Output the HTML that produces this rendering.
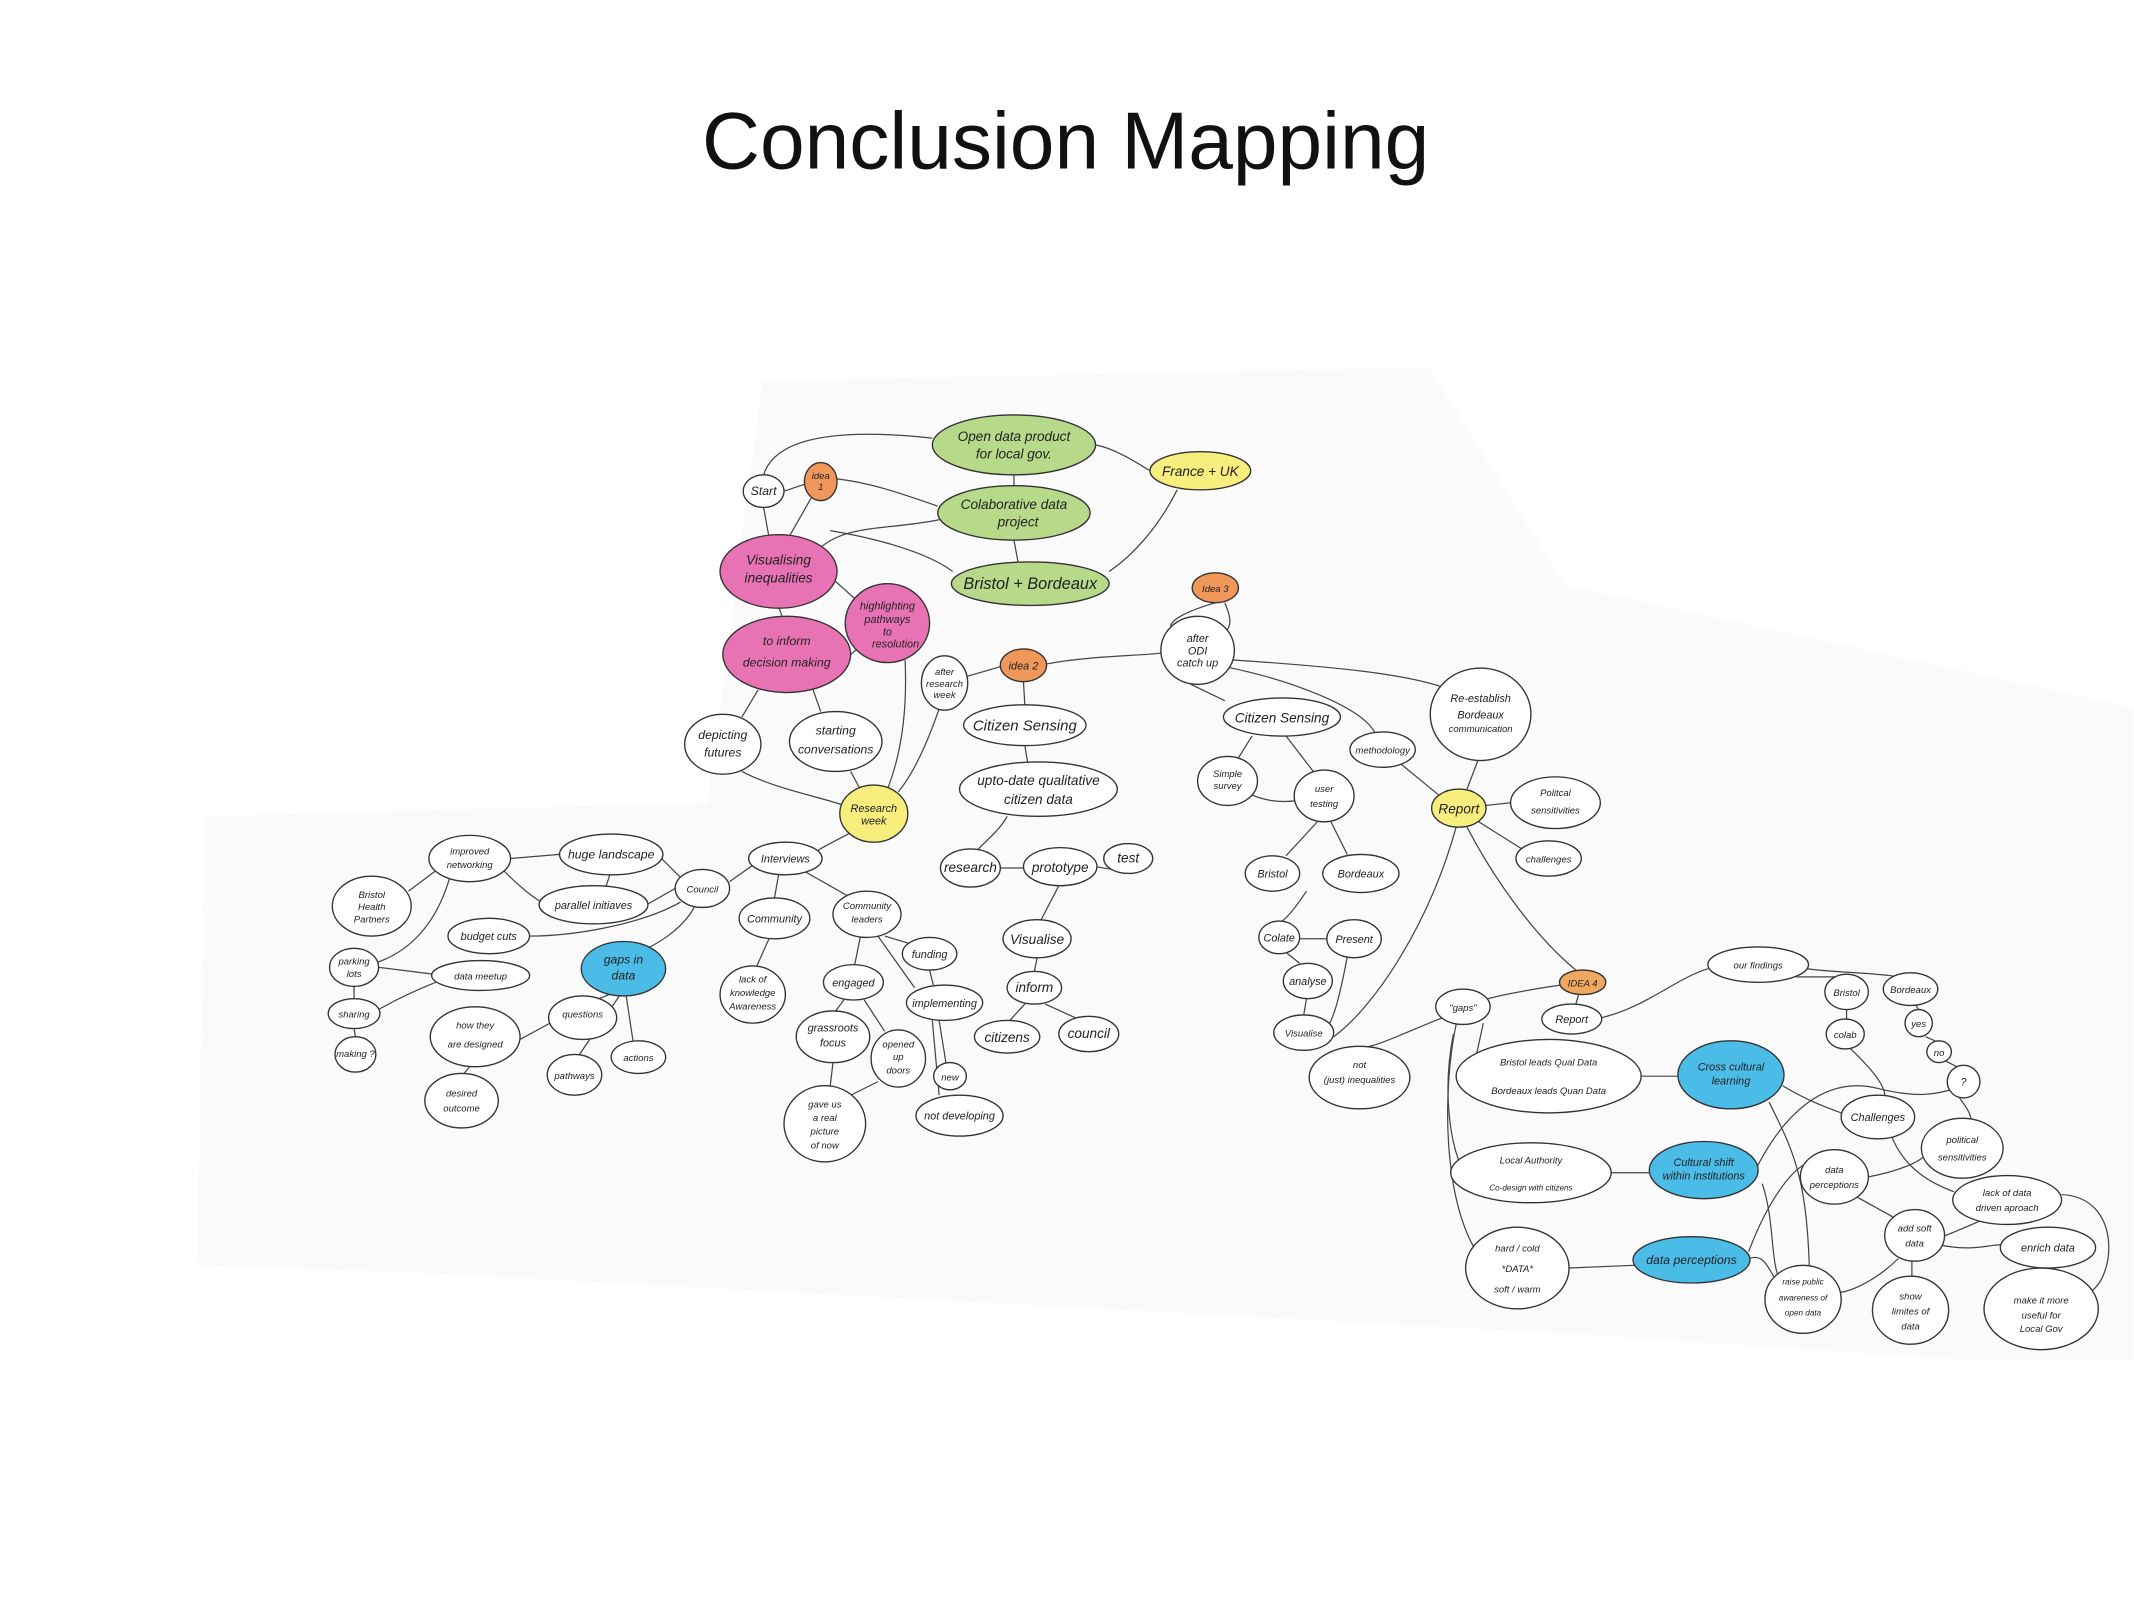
<!DOCTYPE html>
<html><head><meta charset="utf-8"><style>
html,body{margin:0;padding:0;background:#fff;}
body{width:2134px;height:1600px;overflow:hidden;}
svg{display:block}
.t{font-family:"Liberation Sans",sans-serif;font-style:italic;fill:#222;text-anchor:middle;}
ellipse{stroke:#333;stroke-width:1;}
path.e{fill:none;stroke:#444;stroke-width:0.9;}
</style></head><body>
<svg width="2134" height="1600" viewBox="0 0 1568 1176" xmlns="http://www.w3.org/2000/svg">
<rect width="1568" height="1176" fill="#fff"/>
<path d="M150 600 L520 590 L560 280 L1050 270 L1150 430 L1568 520 L1568 1000 L1450 1000 L1150 980 L300 935 L145 930 Z" fill="#fafafa"/>
<text x="783" y="124" font-family="Liberation Sans, sans-serif" font-size="59" text-anchor="middle" fill="#111">Conclusion Mapping</text>

<g>
<path class="e" d="M561 349 C570 320 620 315 685 322"/>
<path class="e" d="M576 361 L591 356"/>
<path class="e" d="M615 352 C640 355 660 362 689 372"/>
<path class="e" d="M745 349 L745 357"/>
<path class="e" d="M745 397 L748 413"/>
<path class="e" d="M805 327 C820 330 835 340 845 346"/>
<path class="e" d="M865 360 C850 390 830 410 815 420"/>
<path class="e" d="M561 373 L565 395"/>
<path class="e" d="M596 366 L580 394"/>
<path class="e" d="M600 405 C620 385 650 390 690 382"/>
<path class="e" d="M610 390 C640 395 680 405 700 420"/>
<path class="e" d="M572 446 L575 454"/>
<path class="e" d="M608 422 L628 440"/>
<path class="e" d="M624 482 L640 468"/>
<path class="e" d="M557 507 L545 527"/>
<path class="e" d="M597 506 L603 523"/>
<path class="e" d="M545 567 C570 580 600 585 620 592"/>
<path class="e" d="M625 567 L632 580"/>
<path class="e" d="M665 485 C667 530 660 560 652 580"/>
<path class="e" d="M690 521 C680 550 670 570 660 582"/>
<path class="e" d="M711 497 L735 490"/>
<path class="e" d="M769 488 C800 482 840 482 853 480"/>
<path class="e" d="M752 501 L753 518"/>
<path class="e" d="M753 548 L755 560"/>
<path class="e" d="M740 600 C735 610 722 620 718 625"/>
<path class="e" d="M735 638 L752 638"/>
<path class="e" d="M806 637 C820 640 832 640 829 642"/>
<path class="e" d="M778 651 L765 676"/>
<path class="e" d="M762 704 L760 714"/>
<path class="e" d="M753 738 L742 750"/>
<path class="e" d="M768 738 L790 748"/>
<path class="e" d="M625 612 C610 620 600 625 600 626"/>
<path class="e" d="M560 631 L536 648"/>
<path class="e" d="M572 643 L569 660"/>
<path class="e" d="M592 641 L622 658"/>
<path class="e" d="M565 690 L556 710"/>
<path class="e" d="M650 688 L670 694"/>
<path class="e" d="M632 689 L628 709"/>
<path class="e" d="M645 688 L672 726"/>
<path class="e" d="M620 735 L614 743"/>
<path class="e" d="M635 735 L650 758"/>
<path class="e" d="M612 781 L610 798"/>
<path class="e" d="M645 795 L625 805"/>
<path class="e" d="M690 750 L695 781"/>
<path class="e" d="M685 750 L690 805"/>
<path class="e" d="M683 713 L686 725"/>
<path class="e" d="M496 653 L475 665"/>
<path class="e" d="M500 645 L485 630"/>
<path class="e" d="M375 631 L411 628"/>
<path class="e" d="M370 640 C385 655 395 662 400 664"/>
<path class="e" d="M448 643 L445 652"/>
<path class="e" d="M320 640 L300 655"/>
<path class="e" d="M330 646 C320 680 300 700 275 708"/>
<path class="e" d="M500 663 C470 680 420 688 389 688"/>
<path class="e" d="M510 667 C500 685 480 695 470 700"/>
<path class="e" d="M278 711 L318 716"/>
<path class="e" d="M320 722 C300 730 285 738 278 742"/>
<path class="e" d="M260 725 L260 734"/>
<path class="e" d="M260 756 L261 762"/>
<path class="e" d="M382 764 L404 752"/>
<path class="e" d="M345 784 L340 790"/>
<path class="e" d="M450 730 L440 734"/>
<path class="e" d="M455 732 L425 776"/>
<path class="e" d="M460 732 L465 765"/>
<path class="e" d="M893 443 C870 450 862 455 860 460"/>
<path class="e" d="M900 443 C905 455 905 460 900 465"/>
<path class="e" d="M875 503 L900 515"/>
<path class="e" d="M900 490 C950 500 1000 520 1010 538"/>
<path class="e" d="M905 485 C980 490 1030 495 1060 505"/>
<path class="e" d="M920 541 L910 557"/>
<path class="e" d="M945 541 L965 567"/>
<path class="e" d="M915 582 C930 590 945 590 955 588"/>
<path class="e" d="M1030 562 L1058 585"/>
<path class="e" d="M1086 559 L1078 580"/>
<path class="e" d="M1092 592 L1110 590"/>
<path class="e" d="M1085 603 L1120 625"/>
<path class="e" d="M968 604 L945 629"/>
<path class="e" d="M978 604 L990 628"/>
<path class="e" d="M960 655 C950 670 945 675 942 677"/>
<path class="e" d="M955 690 L975 690"/>
<path class="e" d="M945 700 L955 708"/>
<path class="e" d="M960 734 L958 746"/>
<path class="e" d="M990 703 C985 730 980 750 975 755"/>
<path class="e" d="M1070 608 C1050 680 1010 740 980 762"/>
<path class="e" d="M1078 608 C1100 650 1130 690 1158 713"/>
<path class="e" d="M1147 724 C1120 728 1100 732 1090 735"/>
<path class="e" d="M1160 731 L1158 738"/>
<path class="e" d="M1060 748 C1030 760 1010 770 1000 770"/>
<path class="e" d="M1070 753 C1060 800 1060 880 1085 920"/>
<path class="e" d="M1090 752 L1085 775"/>
<path class="e" d="M1068 760 C1060 800 1065 840 1075 860"/>
<path class="e" d="M1177 748 C1210 740 1230 720 1255 712"/>
<path class="e" d="M1328 712 C1350 715 1380 715 1395 718"/>
<path class="e" d="M1320 718 L1350 718"/>
<path class="e" d="M1357 742 L1357 749"/>
<path class="e" d="M1408 739 L1410 742"/>
<path class="e" d="M1415 762 L1422 765"/>
<path class="e" d="M1430 780 L1438 784"/>
<path class="e" d="M1206 791 L1234 791"/>
<path class="e" d="M1184 862 L1212 862"/>
<path class="e" d="M1153 932 L1201 930"/>
<path class="e" d="M1310 798 C1330 810 1345 815 1353 818"/>
<path class="e" d="M1360 771 C1380 790 1385 800 1385 805"/>
<path class="e" d="M1300 810 C1320 850 1330 870 1330 960"/>
<path class="e" d="M1290 860 C1310 820 1340 790 1380 800 C1420 810 1430 800 1440 800"/>
<path class="e" d="M1285 920 C1300 880 1320 855 1330 855"/>
<path class="e" d="M1285 925 C1300 920 1300 940 1310 945"/>
<path class="e" d="M1295 870 C1305 900 1300 930 1310 945"/>
<path class="e" d="M1373 865 C1400 860 1420 850 1415 845"/>
<path class="e" d="M1365 880 L1392 895"/>
<path class="e" d="M1395 925 C1380 940 1360 950 1350 950"/>
<path class="e" d="M1405 927 L1405 938"/>
<path class="e" d="M1425 910 C1450 900 1460 895 1460 895"/>
<path class="e" d="M1425 915 C1450 920 1460 915 1470 915"/>
<path class="e" d="M1390 835 C1400 860 1420 870 1436 876"/>
<path class="e" d="M1440 807 C1450 820 1450 825 1445 825"/>
<path class="e" d="M1515 878 C1560 880 1555 940 1535 950"/>
<path class="e" d="M1505 932 L1500 932"/>
</g>

<g>
<ellipse cx="745" cy="327" rx="60" ry="22" fill="#b7d98a"/>
<ellipse cx="745" cy="377" rx="56" ry="20" fill="#b7d98a"/>
<ellipse cx="757" cy="429" rx="58" ry="16" fill="#b7d98a"/>
<ellipse cx="882" cy="346" rx="37" ry="14" fill="#f7ee7e"/>
<ellipse cx="642" cy="598" rx="25" ry="21" fill="#f7ee7e"/>
<ellipse cx="1072" cy="594" rx="20" ry="14" fill="#f7ee7e"/>
<ellipse cx="603" cy="354" rx="12" ry="14" fill="#f0985a"/>
<ellipse cx="893" cy="432" rx="17" ry="11" fill="#f0985a"/>
<ellipse cx="752" cy="489" rx="17" ry="12" fill="#f0985a"/>
<ellipse cx="1163" cy="722" rx="17" ry="9" fill="#f0a860"/>
<ellipse cx="572" cy="420" rx="43" ry="27" fill="#e773b4"/>
<ellipse cx="578" cy="481" rx="47" ry="28" fill="#e773b4"/>
<ellipse cx="652" cy="458" rx="31" ry="29" fill="#e773b4"/>
<ellipse cx="458" cy="712" rx="31" ry="20" fill="#4bbbe8"/>
<ellipse cx="1272" cy="790" rx="39" ry="25" fill="#4bbbe8"/>
<ellipse cx="1252" cy="860" rx="40" ry="21" fill="#4bbbe8"/>
<ellipse cx="1243" cy="926" rx="43" ry="17" fill="#4bbbe8"/>
</g>
<g fill="#fff">
<ellipse cx="561" cy="361" rx="15" ry="12"/>
<ellipse cx="694" cy="502" rx="17" ry="20"/>
<ellipse cx="880" cy="478" rx="27" ry="25"/>
<ellipse cx="753" cy="533" rx="45" ry="15"/>
<ellipse cx="763" cy="580" rx="58" ry="20"/>
<ellipse cx="713" cy="638" rx="22" ry="14"/>
<ellipse cx="779" cy="637" rx="27" ry="14"/>
<ellipse cx="829" cy="631" rx="18" ry="11"/>
<ellipse cx="762" cy="690" rx="25" ry="14"/>
<ellipse cx="760" cy="726" rx="20" ry="12"/>
<ellipse cx="740" cy="762" rx="24" ry="12"/>
<ellipse cx="800" cy="760" rx="22" ry="13"/>
<ellipse cx="531" cy="547" rx="28" ry="22"/>
<ellipse cx="614" cy="545" rx="34" ry="22"/>
<ellipse cx="577" cy="631" rx="27" ry="12"/>
<ellipse cx="569" cy="675" rx="26" ry="15"/>
<ellipse cx="637" cy="672" rx="25" ry="17"/>
<ellipse cx="683" cy="701" rx="20" ry="12"/>
<ellipse cx="627" cy="722" rx="22" ry="13"/>
<ellipse cx="694" cy="737" rx="28" ry="13"/>
<ellipse cx="612" cy="762" rx="27" ry="19"/>
<ellipse cx="660" cy="778" rx="20" ry="21"/>
<ellipse cx="698" cy="791" rx="12" ry="10"/>
<ellipse cx="606" cy="826" rx="30" ry="28"/>
<ellipse cx="705" cy="820" rx="32" ry="15"/>
<ellipse cx="553" cy="731" rx="24" ry="21"/>
<ellipse cx="516" cy="653" rx="20" ry="14"/>
<ellipse cx="449" cy="628" rx="38" ry="15"/>
<ellipse cx="345" cy="631" rx="30" ry="17"/>
<ellipse cx="436" cy="665" rx="40" ry="14"/>
<ellipse cx="273" cy="666" rx="29" ry="22"/>
<ellipse cx="359" cy="688" rx="30" ry="13"/>
<ellipse cx="260" cy="711" rx="18" ry="14"/>
<ellipse cx="353" cy="717" rx="36" ry="11"/>
<ellipse cx="260" cy="745" rx="19" ry="11"/>
<ellipse cx="261" cy="775" rx="15" ry="13"/>
<ellipse cx="349" cy="762" rx="33" ry="22"/>
<ellipse cx="428" cy="748" rx="25" ry="16"/>
<ellipse cx="469" cy="777" rx="20" ry="12"/>
<ellipse cx="422" cy="790" rx="20" ry="15"/>
<ellipse cx="339" cy="809" rx="27" ry="20"/>
<ellipse cx="942" cy="527" rx="43" ry="14"/>
<ellipse cx="1016" cy="551" rx="24" ry="13"/>
<ellipse cx="1088" cy="525" rx="37" ry="34"/>
<ellipse cx="902" cy="574" rx="22" ry="18"/>
<ellipse cx="973" cy="585" rx="22" ry="19"/>
<ellipse cx="1143" cy="590" rx="33" ry="19"/>
<ellipse cx="1138" cy="631" rx="24" ry="13"/>
<ellipse cx="935" cy="642" rx="20" ry="13"/>
<ellipse cx="1000" cy="642" rx="28" ry="14"/>
<ellipse cx="940" cy="689" rx="15" ry="12"/>
<ellipse cx="995" cy="690" rx="20" ry="14"/>
<ellipse cx="961" cy="721" rx="18" ry="13"/>
<ellipse cx="958" cy="759" rx="22" ry="13"/>
<ellipse cx="1075" cy="740" rx="20" ry="13"/>
<ellipse cx="1155" cy="749" rx="22" ry="11"/>
<ellipse cx="999" cy="792" rx="37" ry="23"/>
<ellipse cx="1292" cy="709" rx="37" ry="13"/>
<ellipse cx="1357" cy="729" rx="16" ry="13"/>
<ellipse cx="1404" cy="727" rx="20" ry="12"/>
<ellipse cx="1356" cy="760" rx="14" ry="11"/>
<ellipse cx="1410" cy="752" rx="10" ry="10"/>
<ellipse cx="1425" cy="773" rx="9" ry="8"/>
<ellipse cx="1443" cy="795" rx="12" ry="12"/>
<ellipse cx="1138" cy="791" rx="68" ry="27"/>
<ellipse cx="1125" cy="862" rx="59" ry="22"/>
<ellipse cx="1115" cy="932" rx="38" ry="30"/>
<ellipse cx="1380" cy="821" rx="27" ry="16"/>
<ellipse cx="1442" cy="844" rx="30" ry="22"/>
<ellipse cx="1348" cy="865" rx="25" ry="20"/>
<ellipse cx="1475" cy="882" rx="40" ry="18"/>
<ellipse cx="1407" cy="908" rx="22" ry="19"/>
<ellipse cx="1505" cy="917" rx="35" ry="15"/>
<ellipse cx="1325" cy="955" rx="28" ry="25"/>
<ellipse cx="1404" cy="963" rx="28" ry="25"/>
<ellipse cx="1500" cy="962" rx="42" ry="30"/>
</g>

<g class="t" font-size="10">
<text x="745" y="324">Open data product</text><text x="745" y="337">for local gov.</text>
<text x="745" y="374">Colaborative data</text><text x="748" y="387">project</text>
<text x="757" y="433" font-size="12">Bristol + Bordeaux</text>
<text x="882" y="350">France + UK</text>
<text x="642" y="597" font-size="8">Research</text><text x="642" y="606" font-size="8">week</text>
<text x="1072" y="598">Report</text>
<text x="603" y="352" font-size="7">idea</text><text x="603" y="360" font-size="7">1</text>
<text x="893" y="435" font-size="7">Idea 3</text>
<text x="752" y="492" font-size="8">idea 2</text>
<text x="1163" y="725" font-size="7">IDEA 4</text>
<text x="572" y="415">Visualising</text><text x="572" y="428">inequalities</text>
<text x="578" y="474" font-size="9">to inform</text><text x="578" y="490" font-size="9">decision making</text>
<text x="652" y="448" font-size="8">highlighting</text><text x="652" y="458" font-size="8">pathways</text><text x="652" y="467" font-size="8">to</text><text x="658" y="476" font-size="8">resolution</text>
<text x="458" y="708" font-size="9">gaps in</text><text x="458" y="720" font-size="9">data</text>
<text x="1272" y="787" font-size="8">Cross cultural</text><text x="1272" y="797" font-size="8">learning</text>
<text x="1252" y="857" font-size="8">Cultural shift</text><text x="1252" y="867" font-size="8">within institutions</text>
<text x="1243" y="929" font-size="9">data perceptions</text>
<text x="561" y="364" font-size="9">Start</text>
<text x="694" y="496" font-size="7">after</text><text x="694" y="505" font-size="7">research</text><text x="694" y="513" font-size="7">week</text>
<text x="880" y="472" font-size="8">after</text><text x="880" y="481" font-size="8">ODI</text><text x="880" y="490" font-size="8">catch up</text>
<text x="753" y="537" font-size="11">Citizen Sensing</text>
<text x="763" y="577">upto-date qualitative</text><text x="763" y="591">citizen data</text>
<text x="713" y="641">research</text>
<text x="779" y="641">prototype</text>
<text x="829" y="634">test</text>
<text x="762" y="694">Visualise</text>
<text x="760" y="729">inform</text>
<text x="740" y="766">citizens</text>
<text x="800" y="763">council</text>
<text x="531" y="543" font-size="9">depicting</text><text x="531" y="556" font-size="9">futures</text>
<text x="614" y="540" font-size="9">starting</text><text x="614" y="554" font-size="9">conversations</text>
<text x="577" y="634" font-size="8">Interviews</text>
<text x="569" y="678" font-size="8">Community</text>
<text x="637" y="668" font-size="7">Community</text><text x="637" y="678" font-size="7">leaders</text>
<text x="683" y="704" font-size="8">funding</text>
<text x="627" y="725" font-size="8">engaged</text>
<text x="694" y="740" font-size="8">implementing</text>
<text x="612" y="758" font-size="8">grassroots</text><text x="612" y="769" font-size="8">focus</text>
<text x="660" y="770" font-size="7">opened</text><text x="660" y="779" font-size="7">up</text><text x="660" y="789" font-size="7">doors</text>
<text x="698" y="794" font-size="7">new</text>
<text x="606" y="814" font-size="7">gave us</text><text x="606" y="824" font-size="7">a real</text><text x="606" y="834" font-size="7">picture</text><text x="606" y="844" font-size="7">of now</text>
<text x="705" y="823" font-size="8">not developing</text>
<text x="553" y="722" font-size="7">lack of</text><text x="553" y="732" font-size="7">knowledge</text><text x="553" y="742" font-size="7">Awareness</text>
<text x="516" y="656" font-size="7">Council</text>
<text x="449" y="631" font-size="9">huge landscape</text>
<text x="345" y="628" font-size="7">improved</text><text x="345" y="638" font-size="7">networking</text>
<text x="436" y="668" font-size="8">parallel initiaves</text>
<text x="273" y="660" font-size="7">Bristol</text><text x="273" y="669" font-size="7">Health</text><text x="273" y="678" font-size="7">Partners</text>
<text x="359" y="691" font-size="8">budget cuts</text>
<text x="260" y="709" font-size="7">parking</text><text x="260" y="718" font-size="7">lots</text>
<text x="353" y="720" font-size="7">data meetup</text>
<text x="260" y="748" font-size="7">sharing</text>
<text x="261" y="777" font-size="7">making ?</text>
<text x="349" y="756" font-size="7">how they</text><text x="349" y="770" font-size="7">are designed</text>
<text x="428" y="748" font-size="7">questions</text>
<text x="469" y="780" font-size="7">actions</text>
<text x="422" y="793" font-size="7">pathways</text>
<text x="339" y="806" font-size="7">desired</text><text x="339" y="817" font-size="7">outcome</text>
<text x="942" y="531" font-size="10">Citizen Sensing</text>
<text x="1016" y="554" font-size="7">methodology</text>
<text x="1088" y="516" font-size="8">Re-establish</text><text x="1088" y="528" font-size="8">Bordeaux</text><text x="1088" y="538" font-size="7">communication</text>
<text x="902" y="571" font-size="7">Simple</text><text x="902" y="580" font-size="7">survey</text>
<text x="973" y="582" font-size="7">user</text><text x="973" y="593" font-size="7">testing</text>
<text x="1143" y="585" font-size="7">Politcal</text><text x="1143" y="598" font-size="7">sensitivities</text>
<text x="1138" y="634" font-size="7">challenges</text>
<text x="935" y="645" font-size="8">Bristol</text>
<text x="1000" y="645" font-size="8">Bordeaux</text>
<text x="940" y="692" font-size="8">Colate</text>
<text x="995" y="693" font-size="8">Present</text>
<text x="961" y="724" font-size="8">analyse</text>
<text x="958" y="762" font-size="7">Visualise</text>
<text x="1075" y="743" font-size="7">"gaps"</text>
<text x="1155" y="752" font-size="8">Report</text>
<text x="999" y="785" font-size="7">not</text><text x="999" y="796" font-size="7">(just) inequalities</text>
<text x="1292" y="712" font-size="7">our findings</text>
<text x="1357" y="732" font-size="7">Bristol</text>
<text x="1404" y="730" font-size="7">Bordeaux</text>
<text x="1356" y="763" font-size="7">colab</text>
<text x="1410" y="755" font-size="7">yes</text>
<text x="1425" y="776" font-size="7">no</text>
<text x="1443" y="798" font-size="8">?</text>
<text x="1138" y="783" font-size="7">Bristol leads Qual Data</text><text x="1138" y="804" font-size="7">Bordeaux leads Quan Data</text>
<text x="1125" y="855" font-size="7">Local Authority</text><text x="1125" y="875" font-size="6">Co-design with citizens</text>
<text x="1115" y="920" font-size="7">hard / cold</text><text x="1115" y="935" font-size="7">*DATA*</text><text x="1115" y="950" font-size="7">soft / warm</text>
<text x="1380" y="824" font-size="8">Challenges</text>
<text x="1442" y="840" font-size="7">political</text><text x="1442" y="853" font-size="7">sensitivities</text>
<text x="1348" y="862" font-size="7">data</text><text x="1348" y="873" font-size="7">perceptions</text>
<text x="1475" y="879" font-size="7">lack of data</text><text x="1475" y="890" font-size="7">driven aproach</text>
<text x="1407" y="905" font-size="7">add soft</text><text x="1407" y="916" font-size="7">data</text>
<text x="1505" y="920" font-size="8">enrich data</text>
<text x="1325" y="944" font-size="6">raise public</text><text x="1325" y="956" font-size="6">awareness of</text><text x="1325" y="967" font-size="6">open data</text>
<text x="1404" y="955" font-size="7">show</text><text x="1404" y="966" font-size="7">limites of</text><text x="1404" y="977" font-size="7">data</text>
<text x="1500" y="958" font-size="7">make it more</text><text x="1500" y="969" font-size="7">useful for</text><text x="1500" y="979" font-size="7">Local Gov</text>
</g>
</svg>
</body></html>
